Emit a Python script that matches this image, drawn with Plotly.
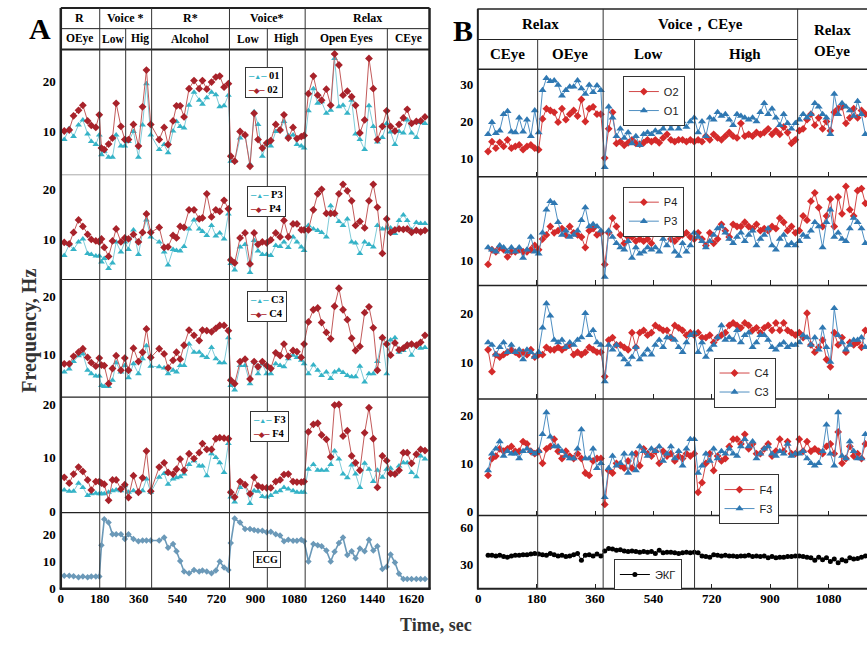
import plotly.graph_objects as go

W, H = 867, 647
def fx(p): return p / W
def fy(p): return 1 - p / H

# ---------------- Panel A data (time in sec) ----------------
tA = [16, 39, 59, 82, 102, 124, 141, 162, 178,
      188, 201, 221, 239, 256, 278, 296, 313, 336, 359, 378, 396, 416,
      455, 478, 496, 519, 535, 552, 570, 593, 616, 640, 655, 675, 697, 717, 735, 755, 775,
      786, 804, 829, 852, 875, 894, 912, 932, 952, 971, 994, 1014, 1032, 1052, 1074, 1092, 1112, 1125,
      1145, 1168, 1188, 1206, 1228, 1248, 1266, 1286, 1305, 1325, 1345, 1363, 1383, 1405, 1425, 1445,
      1464, 1487, 1507, 1525, 1545, 1564, 1584, 1602, 1622, 1644, 1664, 1684]

O1_A = [8.4, 10.6, 9.0, 11.3, 12.3, 9.5, 8.0, 7.4, 9.3,
        5.4, 6.1, 4.9, 4.9, 9.3, 7.1, 7.1, 8.0, 10.0, 4.9, 11.3, 19.5, 9.3,
        6.4, 7.4, 5.8, 10.1, 12.0, 11.0, 10.7, 15.2, 17.8, 16.2, 15.4, 16.7, 17.8, 17.3, 14.9, 15.1, 17.2,
        4.1, 4.1, 8.7, 9.3, 3.5, 13.9, 11.4, 5.1, 7.7, 7.1, 10.0, 10.3, 12.0, 9.2, 9.3, 7.4, 7.1, 6.7,
        14.1, 18.5, 15.6, 15.9, 13.6, 14.2, 24.5, 14.9, 15.2, 13.6, 16.2, 9.5, 8.4, 6.4, 15.1, 11.0,
        7.9, 8.8, 11.6, 9.9, 7.4, 10.0, 9.7, 12.3, 9.7, 8.8, 11.8, 11.6]
O2_A = [10.1, 10.3, 13.1, 14.2, 15.2, 12.1, 11.2, 10.8, 13.3,
        6.7, 6.4, 7.5, 8.7, 15.6, 11.0, 8.4, 8.4, 11.4, 7.1, 14.9, 22.2, 11.4,
        8.4, 10.8, 7.4, 12.1, 15.1, 15.1, 12.9, 18.5, 20.1, 18.5, 20.1, 18.4, 19.8, 20.8, 21.0, 18.8, 19.5,
        5.1, 4.1, 10.0, 9.3, 3.1, 13.6, 8.4, 6.7, 7.7, 8.2, 11.4, 10.3, 13.3, 8.7, 10.8, 8.6, 9.0, 9.2,
        17.5, 21.0, 17.2, 16.2, 18.4, 15.2, 25.4, 23.2, 17.2, 18.0, 16.9, 15.2, 9.7, 12.3, 24.5, 18.5,
        8.4, 11.0, 14.1, 11.0, 10.1, 11.4, 12.7, 14.4, 11.6, 12.0, 12.1, 12.9]
P3_A = [6.8, 9.0, 8.0, 9.5, 10.1, 7.2, 7.0, 6.7, 6.7,
        5.5, 6.2, 4.2, 5.3, 9.5, 7.5, 9.5, 8.0, 11.9, 7.0, 11.4, 13.9, 10.5,
        9.5, 7.5, 4.9, 8.0, 7.8, 7.7, 8.6, 12.1, 13.9, 12.1, 11.6, 10.8, 12.8, 10.7, 11.3, 10.1, 15.1,
        5.2, 3.9, 8.5, 9.0, 3.4, 9.8, 7.7, 7.0, 7.0, 6.8, 8.8, 8.6, 9.5, 8.4, 10.5, 9.5, 8.5, 7.8,
        12.8, 12.1, 11.8, 11.4, 10.5, 16.7, 15.1, 13.6, 12.8, 14.1, 9.5, 9.3, 7.2, 9.5, 9.0, 8.5,
        12.8, 12.1, 12.3, 12.3, 11.2, 13.8, 14.9, 13.8, 11.9, 13.4, 13.2, 13.2]
P4_A = [9.4, 9.1, 11.4, 13.9, 12.6, 11.0, 10.0, 9.7, 9.5,
        10.1, 8.4, 6.6, 9.7, 12.1, 9.5, 10.3, 10.1, 11.0, 9.5, 11.4, 15.1, 11.4,
        12.4, 8.4, 8.5, 10.8, 10.3, 12.6, 12.4, 15.9, 15.9, 14.1, 14.3, 19.1, 14.5, 15.9, 15.6, 17.8, 16.1,
        5.9, 5.3, 10.3, 11.3, 5.1, 11.3, 9.0, 9.5, 9.3, 9.9, 11.3, 10.5, 13.8, 10.5, 13.1, 13.1, 11.9, 11.9,
        11.9, 15.9, 19.1, 20.0, 15.2, 15.2, 15.2, 19.1, 21.0, 19.7, 17.7, 12.8, 13.6, 12.3, 17.7, 21.0,
        16.4, 7.2, 14.1, 11.4, 11.9, 12.1, 12.0, 12.1, 11.4, 11.8, 11.5, 11.8]
C3_A = [7.0, 7.5, 8.8, 9.8, 10.1, 7.3, 6.7, 6.3, 6.3,
        4.7, 4.5, 4.5, 5.6, 8.6, 7.0, 8.1, 6.0, 8.4, 6.7, 9.3, 11.5, 8.0,
        7.9, 7.7, 6.7, 7.3, 7.0, 8.1, 8.1, 11.8, 10.4, 10.4, 9.8, 9.5, 11.2, 9.3, 8.6, 8.6, 12.9,
        4.7, 3.9, 8.1, 8.1, 5.0, 8.7, 6.7, 8.4, 6.7, 6.7, 8.4, 8.1, 7.9, 9.3, 9.9, 9.5, 9.0, 8.4,
        6.7, 8.2, 7.3, 6.4, 7.0, 5.9, 7.0, 7.3, 6.9, 6.4, 6.2, 6.2, 8.0, 5.3, 6.7, 6.7,
        8.8, 12.8, 6.7, 12.5, 12.9, 10.4, 10.7, 11.8, 9.9, 11.5, 11.1, 11.2]
C4_A = [8.4, 8.4, 9.7, 10.4, 11.0, 9.5, 8.6, 8.0, 9.4,
        8.2, 8.1, 5.0, 7.6, 9.8, 7.3, 9.4, 7.3, 11.1, 8.8, 10.4, 14.4, 9.5,
        11.0, 10.1, 7.7, 9.0, 10.4, 9.2, 11.6, 14.2, 13.3, 12.4, 14.2, 14.1, 13.9, 14.5, 15.0, 15.0, 14.1,
        5.6, 5.0, 8.8, 9.2, 5.8, 8.8, 7.9, 8.8, 8.1, 7.6, 10.3, 9.8, 11.8, 9.7, 10.7, 10.5, 9.5, 11.8,
        15.6, 17.7, 18.0, 15.5, 13.8, 12.7, 18.3, 21.4, 17.7, 16.0, 12.8, 10.7, 11.4, 17.2, 18.2, 14.6,
        7.3, 12.9, 11.8, 9.9, 12.0, 10.8, 11.1, 11.6, 11.8, 11.6, 12.1, 13.3]
F3_A = [3.9, 3.7, 3.7, 5.2, 4.4, 2.9, 3.2, 3.3, 3.2,
        3.2, 3.2, 3.5, 3.8, 3.9, 3.8, 4.7, 3.5, 3.8, 3.5, 3.8, 6.0, 3.5,
        6.3, 7.0, 5.0, 6.0, 6.2, 6.4, 6.9, 8.7, 9.4, 8.4, 8.4, 6.6, 10.7, 10.0, 9.0, 7.2, 12.6,
        2.6, 1.7, 4.4, 4.9, 1.4, 3.8, 3.7, 2.7, 2.6, 2.9, 3.5, 3.8, 4.4, 4.1, 3.8, 3.5, 3.5, 3.5,
        7.8, 8.7, 7.6, 7.6, 7.6, 8.7, 11.2, 9.7, 6.9, 6.2, 8.6, 6.9, 4.4, 8.9, 7.8, 5.5,
        7.6, 6.3, 7.8, 8.0, 6.8, 8.4, 9.0, 9.0, 7.2, 6.4, 10.3, 9.7]
F4_A = [6.3, 5.2, 6.9, 8.2, 7.4, 5.8, 3.9, 5.5, 5.5,
        5.2, 5.0, 2.0, 5.8, 5.8, 4.1, 4.9, 2.5, 6.6, 3.5, 6.2, 11.2, 3.7,
        8.2, 9.0, 7.2, 6.9, 7.8, 9.7, 7.6, 10.7, 9.8, 10.9, 12.6, 11.5, 11.5, 13.5, 13.7, 13.6, 13.5,
        3.5, 2.6, 5.5, 4.9, 3.2, 6.3, 4.7, 4.4, 4.3, 4.3, 5.5, 5.8, 6.8, 6.9, 5.5, 5.4, 5.4, 5.5,
        14.8, 16.2, 16.4, 14.2, 13.4, 10.1, 19.8, 19.9, 14.0, 15.0, 10.3, 9.0, 7.6, 14.6, 19.3, 13.5,
        4.4, 10.3, 9.4, 7.0, 6.9, 7.6, 10.9, 10.9, 8.9, 10.6, 11.5, 11.3]
ECG_A = [4.8, 4.8, 4.6, 4.2, 4.5, 4.2, 4.5, 4.5, 4.5,
         16.1, 25.8, 24.6, 20.2, 20.2, 20.2, 18.5, 20.2, 18.5, 17.6, 17.9, 17.9, 17.9,
         17.9, 19.0, 15.2, 16.6, 13.9, 10.3, 6.4, 5.7, 6.9, 6.4, 6.7, 6.4, 5.7, 6.7, 10.1, 7.9, 6.9,
         17.0, 26.1, 24.6, 22.2, 22.2, 21.8, 21.5, 21.5, 21.0, 21.2, 20.2, 19.8, 17.6, 18.2, 17.8, 17.8, 18.2, 17.6,
         10.1, 16.6, 16.1, 15.8, 14.2, 10.1, 13.7, 17.0, 19.0, 12.5, 13.9, 11.3, 14.9, 13.9, 18.2, 14.2,
         15.8, 7.3, 8.1, 12.7, 9.7, 5.5, 3.6, 3.6, 3.6, 3.6, 3.6, 3.6]

# ---------------- Panel B data (sampling every 12 s) ----------------
tB = list(range(30, 1195, 12))

O2_B = [11.8, 14.5, 12.7, 14.3, 13.2, 15.0, 12.7, 13.2, 13.6, 12.3, 13.2, 13.6, 12.7, 12.3,
        20.7, 23.5, 23.0, 22.5, 19.8, 23.5, 20.5, 22.0, 23.0, 21.5, 26.0, 20.0, 23.5, 24.0, 22.0, 22.0,
        10.0, 18.0, 22.5, 14.0, 14.5, 13.5, 14.2, 15.0, 14.0, 13.8, 14.2, 15.0, 14.5, 15.0, 14.2, 15.5,
        16.5, 15.0, 14.5, 15.0, 15.0, 14.5, 15.0, 14.5,
        15.0, 14.5, 16.0, 15.0, 16.5, 15.5, 15.0, 16.0, 17.0, 16.0, 15.5, 19.5, 16.0, 16.5, 16.0, 17.0,
        16.5, 17.0, 18.0, 16.5, 17.5, 16.5, 18.5, 17.0, 14.0, 15.0,
        17.5, 18.0, 20.5, 22.0, 19.0, 21.0, 18.0, 20.0, 17.5, 22.5, 23.5, 24.0, 19.5, 21.0, 23.5, 21.0, 23.0, 22.0]
O1_B = [16.5, 19.8, 16.8, 17.5, 22.0, 22.8, 17.2, 17.0, 21.0, 17.2, 20.5, 16.0, 23.0, 17.0,
        28.5, 31.8, 31.0, 31.2, 30.0, 27.0, 28.5, 29.5, 29.5, 31.2, 29.0, 27.5, 30.0, 28.0, 29.8, 28.5,
        7.5, 24.0, 21.0, 16.0, 18.0, 15.5, 17.0, 14.0, 16.0, 13.5, 16.5, 17.0, 16.5, 17.5, 17.0, 18.0,
        20.0, 18.0, 20.0, 18.0, 20.0, 18.5, 20.0, 21.0,
        17.0, 20.0, 16.0, 21.0, 20.5, 22.5, 21.5, 22.0, 20.5, 19.0, 22.0, 21.5, 21.0, 20.5, 21.0, 20.0,
        22.5, 25.0, 22.0, 23.5, 21.0, 19.0, 22.0, 19.5, 18.0, 19.5,
        20.5, 22.0, 21.0, 22.0, 25.0, 24.0, 22.0, 21.0, 16.5, 27.5, 22.0, 25.0, 24.0, 23.0, 21.5, 25.5, 22.0, 16.5]
P4_B = [9.0, 12.5, 12.0, 13.0, 12.5, 10.8, 12.0, 12.0, 12.5, 12.0, 12.0, 12.5, 13.5, 12.5,
        15.0, 16.0, 18.0, 16.5, 17.0, 17.5, 16.0, 18.0, 16.5, 16.0, 15.5, 13.0, 17.0, 17.5, 16.0, 16.5,
        9.0, 16.5, 20.0, 18.0, 16.0, 14.0, 15.5, 15.5, 14.5, 15.0, 14.5, 15.0, 14.0, 17.5, 17.0, 16.0,
        16.5, 15.0, 14.5, 15.5, 16.0, 16.5, 15.5, 15.0,
        16.5, 15.0, 13.5, 16.5, 14.0, 15.0, 18.5, 17.0, 15.5, 18.5, 18.0, 18.0, 19.0, 18.0, 17.5, 18.5,
        17.0, 17.5, 17.0, 18.0, 17.5, 20.0, 19.0, 17.0, 18.0, 16.5,
        17.0, 20.5, 19.5, 24.0, 26.0, 22.5, 18.0, 20.5, 24.5, 18.0, 25.0, 21.0, 27.5, 22.0, 20.5, 26.5, 27.0, 23.5]
P3_B = [13.0, 12.5, 12.0, 13.5, 13.0, 12.0, 13.0, 12.0, 13.0, 10.5, 12.5, 15.5, 12.0, 11.5,
        16.5, 22.0, 24.0, 23.5, 19.0, 16.0, 17.0, 15.5, 16.0, 17.0, 19.5, 22.5, 18.0, 18.5, 18.0, 17.0,
        6.0, 17.0, 15.5, 14.0, 13.0, 12.5, 14.5, 10.5, 13.0, 11.5, 12.0, 13.0, 12.5, 13.0, 12.0, 15.0,
        13.5, 16.0, 12.0, 11.0, 14.0, 12.0, 13.5, 16.5,
        15.5, 14.5, 13.0, 14.5, 16.0, 17.5, 18.0, 16.5, 15.0, 14.0, 15.5, 16.5, 14.5, 16.0, 17.0, 13.5,
        15.0, 16.0, 17.5, 13.5, 12.5, 15.0, 16.0, 13.5, 14.0, 13.5,
        14.5, 16.0, 15.5, 17.0, 19.0, 18.0, 13.0, 19.0, 22.0, 15.5, 16.5, 15.0, 14.5, 17.5, 20.0, 19.0, 17.5, 14.0]
C4_B = [12.5, 8.0, 11.5, 11.0, 11.5, 12.0, 12.5, 12.0, 11.5, 12.0, 11.5, 12.5, 11.0, 11.5,
        11.5, 13.0, 12.5, 12.5, 13.0, 12.5, 13.0, 13.5, 11.5, 12.0, 11.5, 12.0, 13.0, 12.5, 12.0, 12.0,
        7.0, 14.5, 15.0, 13.5, 13.5, 13.0, 12.5, 16.0, 13.0, 16.0, 16.5, 15.5, 16.0, 17.5, 17.0, 16.5,
        16.5, 15.0, 17.5, 17.0, 16.5, 15.5, 16.0, 15.5,
        16.0, 15.0, 15.0, 15.5, 14.0, 15.0, 15.5, 16.0, 17.5, 18.0, 17.5, 17.0, 18.0, 17.5, 16.5, 17.0,
        16.0, 17.0, 17.5, 16.5, 18.0, 16.5, 18.0, 16.5, 16.0, 15.5,
        16.0, 15.0, 20.0, 13.5, 12.0, 13.0, 14.5, 10.5, 9.0, 16.0, 13.5, 15.0, 12.0, 14.0, 13.5, 14.0, 13.0, 16.5]
C3_B = [14.0, 13.5, 11.5, 13.0, 14.0, 12.0, 13.5, 12.0, 12.5, 10.5, 12.5, 12.0, 11.0, 12.0,
        17.0, 22.0, 19.5, 14.5, 14.0, 14.5, 13.0, 14.0, 13.5, 14.5, 15.0, 20.0, 15.5, 16.5, 14.0, 13.5,
        6.0, 13.5, 12.5, 13.5, 11.5, 10.5, 9.5, 11.0, 13.0, 10.5, 11.5, 12.5, 11.5, 13.5, 14.5, 13.0,
        15.0, 15.0, 14.5, 13.0, 12.0, 14.0, 15.5, 16.0,
        12.0, 14.0, 11.0, 12.5, 13.5, 15.0, 17.5, 14.5, 15.0, 14.5, 16.5, 14.0, 15.5, 16.0, 13.0, 14.0,
        15.5, 15.5, 14.5, 13.0, 12.5, 13.5, 14.0, 13.0, 13.5, 13.5,
        14.0, 15.5, 15.0, 13.5, 15.0, 12.5, 17.0, 13.0, 10.0, 21.0, 15.5, 14.0, 12.5, 13.5, 14.5, 14.5, 15.0, 13.0]
F4_B = [7.5, 11.0, 11.5, 13.0, 12.5, 13.0, 13.5, 12.5, 12.5, 14.5, 14.0, 12.5, 12.0, 12.5,
        10.0, 13.0, 13.5, 15.0, 12.5, 11.0, 12.5, 11.5, 11.0, 12.0, 11.0, 8.0, 7.5, 10.5, 11.0, 11.0,
        1.5, 8.5, 8.0, 10.0, 9.5, 9.0, 10.5, 9.0, 12.0, 9.5, 13.0, 12.0, 11.5, 12.5, 10.0, 12.5,
        11.5, 12.0, 10.5, 11.5, 11.0, 12.0, 11.5, 12.0,
        4.0, 6.0, 10.0, 12.0, 8.5, 11.5, 10.5, 11.0, 13.5, 15.0, 15.0, 14.0, 16.0, 13.0, 14.0, 12.0,
        12.0, 13.0, 14.0, 11.5, 12.5, 15.0, 12.5, 14.5, 12.0, 12.0,
        15.0, 12.5, 14.5, 12.5, 13.0, 12.5, 12.0, 13.5, 14.0, 12.0, 16.5, 10.0, 11.0, 13.5, 11.5, 12.0, 11.0, 14.0]
F3_B = [8.5, 12.0, 13.0, 14.5, 11.5, 12.5, 12.0, 12.0, 11.0, 12.5, 13.0, 12.5, 12.0, 12.5,
        16.0, 20.5, 15.5, 13.5, 13.5, 12.5, 11.5, 11.0, 11.0, 13.0, 17.0, 11.0, 11.0, 13.0, 9.0, 10.0,
        3.0, 9.0, 11.5, 9.5, 10.0, 12.0, 8.0, 12.0, 8.5, 13.5, 12.5, 11.5, 13.0, 12.5, 13.5, 10.5,
        12.0, 13.5, 11.0, 12.5, 9.5, 13.0, 15.0, 15.0,
        8.0, 9.5, 12.0, 10.5, 13.0, 11.0, 12.5, 12.0, 13.0, 12.0, 11.5, 13.5, 15.0, 13.5, 14.5, 11.0,
        12.0, 13.0, 13.5, 12.0, 11.5, 12.5, 12.0, 14.0, 11.5, 12.0,
        12.0, 12.5, 11.0, 10.0, 9.5, 10.0, 12.5, 18.0, 12.0, 9.5, 20.5, 11.5, 11.0, 14.5, 12.5, 11.0, 11.0, 16.0]
ECG_B = [37.5, 37.5, 37.0, 37.5, 36.5, 36.0, 37.0, 37.5, 37.5, 38.0, 38.0, 38.5, 39.0, 38.5,
         38.0, 37.5, 39.0, 38.0, 37.0, 37.5, 36.5, 37.0, 38.0, 39.0, 33.5, 37.5, 38.0, 37.0, 38.5, 37.0,
         41.0, 43.0, 42.5, 41.5, 42.0, 41.0, 40.5, 41.0, 40.5, 40.0, 40.5, 40.0, 40.5, 39.0, 41.5, 39.5,
         40.0, 40.0, 39.5, 39.0, 39.5, 40.0, 39.5, 40.0,
         39.5, 37.0, 36.5, 36.0, 38.0, 37.5, 37.0, 37.5, 37.0, 37.0, 36.5, 37.0, 37.0, 37.5, 36.5, 37.0,
         36.5, 37.0, 35.5, 36.5, 35.5, 36.0, 36.0, 36.5, 36.5, 37.0,
         37.0, 36.5, 36.0, 35.5, 33.5, 36.0, 34.0, 35.5, 32.5, 34.5, 31.5, 34.0, 33.0, 35.5, 34.5, 35.0, 36.0, 37.0]

# tick labels
ticksA = [0, 180, 360, 540, 720, 900, 1080, 1260, 1440, 1620]
ticksB = [0, 180, 360, 540, 720, 900, 1080]

SERIF = "Liberation Serif"
SANS = "Liberation Sans"
def bf(size, color="black", fam=SERIF):
    return dict(family=fam, size=size, color=color, weight="bold")

A_rows = [(50, 177), (177, 283), (283, 402), (402, 519), (519, 596)]
B_rows = [(70, 179), (179, 289), (289, 404), (404, 522), (522, 596)]
A_yr = [[1.4, 26.3], [2.0, 22.9], [2.7, 22.9], [-0.3, 21.3], [0, 28.3]]
B_yr = [[4.9, 34.3], [4.0, 29.8], [2.4, 25.7], [-0.8, 23.3], [10.7, 69.5]]
A_yt = [[10, 20], [10, 20], [10, 20], [0, 10, 20], [0, 10, 20]]
B_yt = [[10, 20, 30], [10, 20], [10, 20], [0, 10, 20], [30, 60]]
A_xr = [0, 1705]
B_xr = [0, 1199]

fig = go.Figure()
layout = dict(width=W, height=H, margin=dict(l=0, r=0, t=0, b=0),
              plot_bgcolor="white", paper_bgcolor="white", showlegend=True)

for i in range(10):
    n = i + 1
    sfx = "" if n == 1 else str(n)
    isA = i < 5
    k = i % 5
    top, bot = (A_rows if isA else B_rows)[k]
    layout["xaxis" + sfx] = dict(
        domain=[fx(58), fx(428)] if isA else [fx(477), 1.0],
        range=A_xr if isA else B_xr, anchor="y" + sfx,
        showgrid=False, zeroline=False, showline=False,
        tickmode="array", tickvals=ticksA if isA else ticksB,
        showticklabels=(k == 4), tickfont=bf(13),
        ticks="" if isA else "inside", ticklen=5, tickcolor="#222", tickwidth=1)
    layout["yaxis" + sfx] = dict(
        domain=[fy(bot), fy(top)], range=(A_yr if isA else B_yr)[k], anchor="x" + sfx,
        showgrid=False, zeroline=False, showline=False,
        tickmode="array", tickvals=(A_yt if isA else B_yt)[k],
        tickfont=bf(13), ticks="", ticklabelstandoff=4)

def add(x, y, sub, name, mcol, lcol, sym, msize, lw, leg=None):
    sfx = "" if sub == 1 else str(sub)
    kw = dict(legend=leg) if leg else dict(showlegend=False)
    fig.add_trace(go.Scatter(x=x, y=y, name=name, mode="lines+markers",
                             xaxis="x" + sfx, yaxis="y" + sfx,
                             line=dict(color=lcol, width=lw),
                             marker=dict(symbol=sym, size=msize, color=mcol, line=dict(width=0)),
                             **kw))

CY_M, CY_L = "#35b3c7", "#7fcbd8"
RD_M, RD_L = "#a8222a", "#c25a5a"
BL_M, BL_L = "#2f78b2", "#4f8fc2"
RB_M, RB_L = "#d42a2a", "#d24848"

add(tA, O1_A, 1, "01", CY_M, CY_L, "triangle-up", 6, 1)
add(tA, O2_A, 1, "02", RD_M, RD_L, "diamond", 6, 1)
add(tA, P3_A, 2, "P3", CY_M, CY_L, "triangle-up", 6, 1)
add(tA, P4_A, 2, "P4", RD_M, RD_L, "diamond", 6, 1)
add(tA, C3_A, 3, "C3", CY_M, CY_L, "triangle-up", 6, 1)
add(tA, C4_A, 3, "C4", RD_M, RD_L, "diamond", 6, 1)
add(tA, F3_A, 4, "F3", CY_M, CY_L, "triangle-up", 6, 1)
add(tA, F4_A, 4, "F4", RD_M, RD_L, "diamond", 6, 1)
add(tA, ECG_A, 5, "ECG", "#6b99b8", "#6b99b8", "diamond", 5, 1.6)

add(tB, O2_B, 6, "O2", RB_M, RB_L, "diamond", 6, 1, "legend")
add(tB, O1_B, 6, "O1", BL_M, BL_L, "triangle-up", 7, 1, "legend")
add(tB, P4_B, 7, "P4", RB_M, RB_L, "diamond", 6, 1, "legend2")
add(tB, P3_B, 7, "P3", BL_M, BL_L, "triangle-up", 7, 1, "legend2")
add(tB, C4_B, 8, "C4", RB_M, RB_L, "diamond", 6, 1, "legend3")
add(tB, C3_B, 8, "C3", BL_M, BL_L, "triangle-up", 7, 1, "legend3")
add(tB, F4_B, 9, "F4", RB_M, RB_L, "diamond", 6, 1, "legend4")
add(tB, F3_B, 9, "F3", BL_M, BL_L, "triangle-up", 7, 1, "legend4")
add(tB, ECG_B, 10, "ЭКГ", "black", "black", "circle", 5, 1, "legend5")

def legcfg(xp, yp, font):
    return dict(x=fx(xp), y=fy(yp), xanchor="left", yanchor="top", bgcolor="white",
                bordercolor="#333", borderwidth=1, font=font, itemwidth=30,
                tracegroupgap=0, traceorder="normal", itemclick=False)

fB = dict(family=SANS, size=11, color="#222")
layout["legend"] = legcfg(622, 77, fB)
layout["legend2"] = legcfg(622, 189, fB)
layout["legend3"] = legcfg(713, 362, fB)
layout["legend4"] = legcfg(718, 480, fB)
layout["legend5"] = legcfg(613, 566, fB)

# ---------------- frame / table lines ----------------
shapes = []
def hl(x0, x1, y, w=1, c="#222"):
    shapes.append(dict(type="line", xref="paper", yref="paper", x0=fx(x0), x1=fx(x1),
                       y0=fy(y), y1=fy(y), line=dict(color=c, width=w)))
def vlp(x, y0, y1, w=1, c="#222"):
    shapes.append(dict(type="line", xref="paper", yref="paper", x0=fx(x), x1=fx(x),
                       y0=fy(y0), y1=fy(y1), line=dict(color=c, width=w)))
def vld(xref, xv, y0, y1, w=1, c="#333"):
    shapes.append(dict(type="line", xref=xref, yref="paper", x0=xv, x1=xv,
                       y0=fy(y0), y1=fy(y1), line=dict(color=c, width=w)))

# Panel A
hl(58, 428, 8, 2)
hl(58, 428, 29, 1)
hl(58, 428, 50, 2)
hl(58, 428, 177, 1, "#aaaaaa")
hl(58, 428, 283, 1.2)
hl(58, 428, 402, 1.2)
hl(58, 428, 519, 1.2)
hl(57, 429, 596, 2.5)
vlp(58, 8, 597, 2.5)
vlp(428, 8, 597, 2.5)
for xv, y0 in [(180, 8), (300, 29), (420, 8), (780, 8), (955, 29), (1130, 8), (1510, 29)]:
    vld("x", xv, y0, 596)

# Panel B
hl(476, 867, 9, 1.5)
hl(476, 797, 40, 1)
hl(476, 867, 70, 1.5)
hl(476, 867, 179, 1.5)
hl(476, 867, 289, 1.5)
hl(476, 867, 404, 1.5)
hl(476, 867, 522, 1.5)
hl(476, 867, 596, 2)
vlp(476.5, 9, 597, 2)
for xv, y0 in [(183, 40), (385, 9), (667, 40), (985, 9)]:
    vld("x6", xv, y0, 596)
layout["shapes"] = shapes

# ---------------- texts ----------------
ann = []
def txt(xp, yp, s, font, **kw):
    d = dict(x=fx(xp), y=fy(yp), xref="paper", yref="paper", text=s, showarrow=False,
             font=font, xanchor="center", yanchor="middle")
    d.update(kw)
    ann.append(d)

for s, xp in [("R", 77), ("Voice *", 123), ("R*", 188), ("Voice*", 265), ("Relax", 366)]:
    txt(xp, 18, s, bf(12))
for s, xp in [("OEye", 77), ("Low", 110), ("Hig", 137), ("Alcohol", 188), ("Low", 246),
              ("High", 284), ("Open Eyes", 345), ("CEye", 407)]:
    txt(xp, 39, s, bf(11.5))
for s, xp in [("Relax", 539), ("Voice\uff0cCEye", 700)]:
    txt(xp, 24, s, bf(15))
txt(832, 30, "Relax", bf(15))
txt(832, 52, "OEye", bf(15))
for s, xp in [("CEye", 506), ("OEye", 569), ("Low", 648), ("High", 745)]:
    txt(xp, 55, s, bf(15))

txt(37, 29, "A", bf(30))
txt(462, 31, "B", bf(30))
txt(27, 335, "Frequency, Hz", bf(20, "#333"), textangle=-90)
txt(435, 633, "Time, sec", bf(18, "#333"))
txt(265, 566, "ECG", bf(10), bordercolor="#333", borderwidth=1, bgcolor="white", borderpad=2)

# compact legend boxes of panel A
def key(col, glyph):
    return (f'<span style="color:{col}">\u2013</span>'
            f'<span style="color:{col};font-size:7px">{glyph}</span>'
            f'<span style="color:{col}">\u2013</span>')
for (xp, yp), (n1, n2) in zip([(243, 68), (245, 188), (245, 295), (248, 416)],
                              [("01", "02"), ("P3", "P4"), ("C3", "C4"), ("F3", "F4")]):
    s = key(CY_M, "\u25b2") + " " + n1 + "<br>" + key(RD_M, "\u25c6") + " " + n2
    txt(xp, yp, s, bf(10.5), xanchor="left", yanchor="top", align="left",
        bordercolor="#333", borderwidth=1, bgcolor="white", borderpad=2)
layout["annotations"] = ann

fig.update_layout(**layout)
fig.write_html("out.html", config={"displayModeBar": False},
               post_script="document.body.style.margin='0px';")
